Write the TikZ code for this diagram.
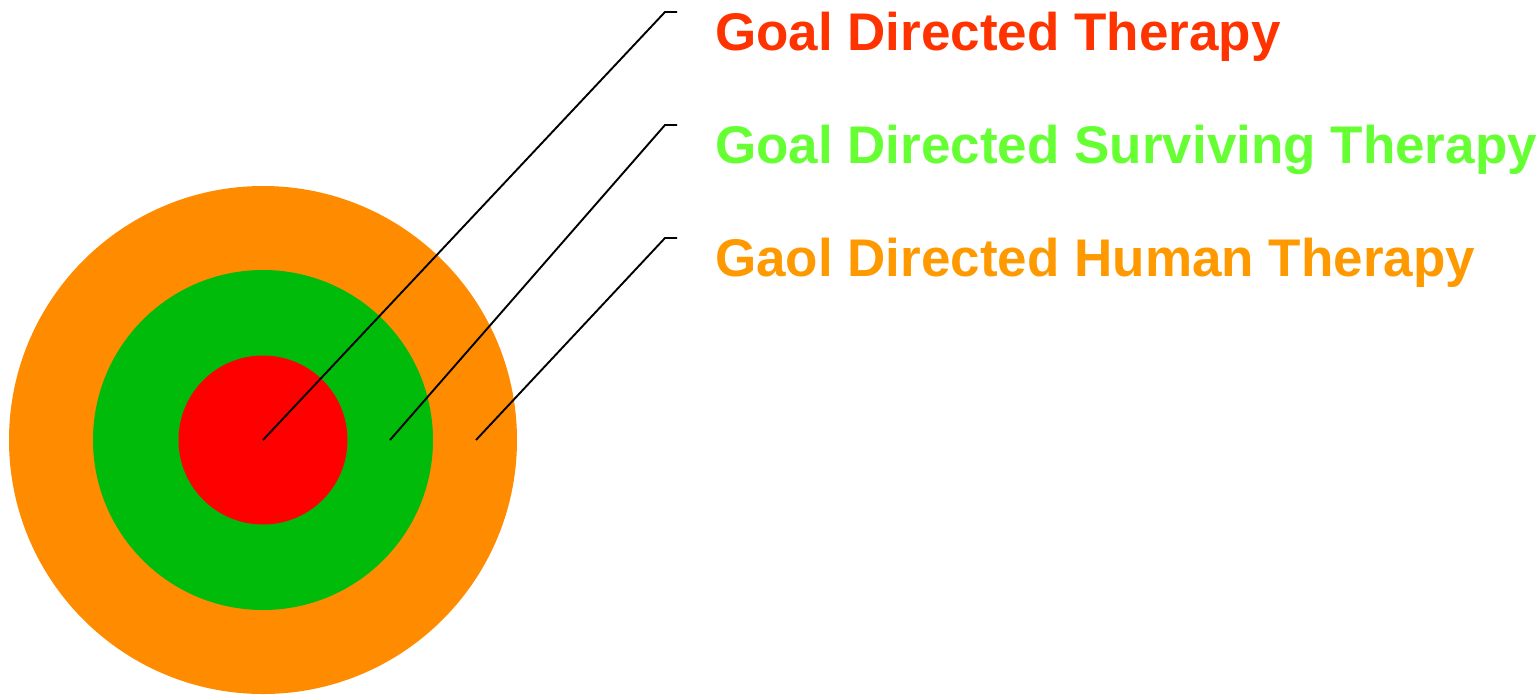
\documentclass[tikz,border=0pt]{standalone}
\usepackage{fontspec}
\setmainfont{Liberation Sans}
\usepackage{tikz}
\usetikzlibrary{positioning,calc}
\definecolor{ringorange}{RGB}{255,140,0}
\definecolor{ringgreen}{RGB}{0,187,10}
\definecolor{ringred}{RGB}{255,0,0}
\definecolor{lblred}{RGB}{255,51,0}
\definecolor{lblgreen}{RGB}{102,255,51}
\definecolor{lblorange}{RGB}{255,153,0}

\begin{document}
\begin{tikzpicture}[x=1pt,y=-1pt,
      ring/.style={circle,draw=none,inner sep=0pt},
      lbl/.style={anchor=base west,inner sep=0pt,font=\fontsize{53}{64}\selectfont\bfseries},
      leader/.style={draw=black,line width=1.9pt},
    ]
      \useasboundingbox (0,0) rectangle (1540,697);

      % Target: outer to inner
      \node[ring,fill=ringorange,minimum size=508pt] (outer) at (263,440) {};
      \node[ring,fill=ringgreen,minimum size=340pt] (middle) at (outer.center) {};
      \node[ring,fill=ringred,minimum size=169pt] (inner) at (outer.center) {};

      % Labels
      \node[lbl,text=lblred] (goal) at (715,50) {Goal Directed Therapy};
      \node[lbl,text=lblgreen] (surv) at (715,163) {Goal Directed Surviving Therapy};
      \node[lbl,text=lblorange] (human) at (715,276) {Gaol Directed Human Therapy};

      % Leader points (x=ring, y=elbow)
      \coordinate (p1) at (inner.center);
      \coordinate (p2) at (390,440);
      \coordinate (p3) at (476,440);
      \coordinate (k1) at (665,12);
      \coordinate (k2) at (665,125);
      \coordinate (k3) at (665,238);

      \foreach \i in {1,2,3}
        \draw[leader] (p\i) -- (k\i) -- ++(12,0);
    \end{tikzpicture}
\end{document}
